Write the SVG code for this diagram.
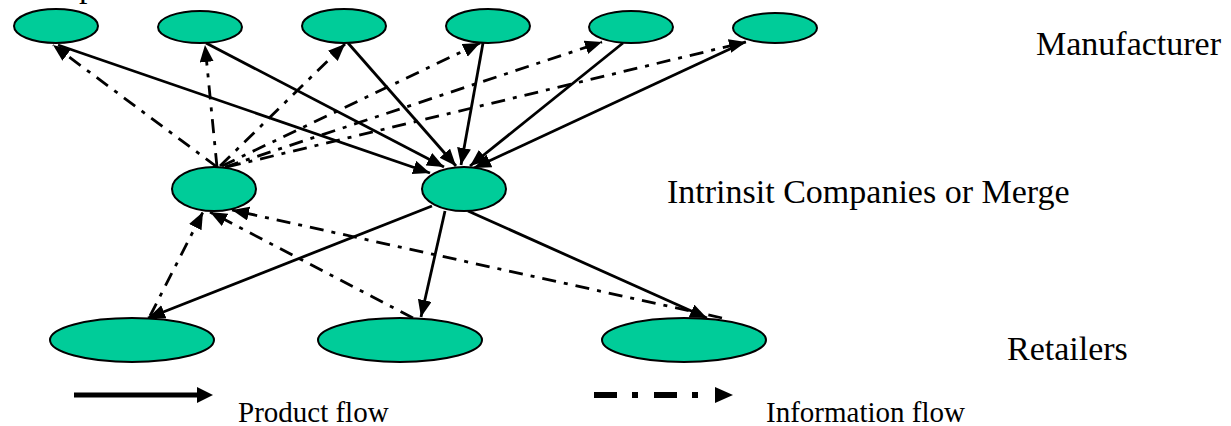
<svg xmlns="http://www.w3.org/2000/svg" width="1231" height="426" viewBox="0 0 1231 426">
  <style>
    .node { fill: #00CC99; stroke: #000; stroke-width: 2; }
    .product { fill: none; stroke: #000; stroke-width: 2.8; marker-end: url(#head); }
    .info { fill: none; stroke: #000; stroke-width: 2.8; stroke-dasharray: 14 8 4 8; marker-end: url(#head); }
    .label { font-family: "Liberation Serif", "Times New Roman", serif; font-size: 34px; fill: #000; }
    .legend-text { font-family: "Liberation Serif", "Times New Roman", serif; font-size: 29px; fill: #000; }
  </style>
  <defs>
    <marker id="head" markerUnits="userSpaceOnUse" markerWidth="19" markerHeight="15" refX="17" refY="7" orient="auto">
      <path d="M0,0 L17,7 L0,14 z" fill="#000"/>
    </marker>
  </defs>

  <rect width="1231" height="426" fill="#fff"/>

  <!-- clipped heading glyph at the top edge -->
  <text class="label" x="79" y="-3">p</text>

  <!-- flows between the tiers -->
  <g id="connectors">
    <!-- product flow: manufacturers to intermediary -->
    <line class="product" x1="58" y1="45" x2="430" y2="173"/>
    <line class="product" x1="206" y1="43" x2="444" y2="167"/>
    <line class="product" x1="348" y1="43" x2="456" y2="166"/>
    <line class="product" x1="483" y1="43" x2="461" y2="165"/>
    <line class="product" x1="623" y1="43" x2="470" y2="166"/>
    <line class="product" x1="745" y1="42" x2="474" y2="168"/>
    <!-- product flow: intermediary to retailers -->
    <line class="product" x1="432" y1="206" x2="148" y2="318"/>
    <line class="product" x1="445" y1="211" x2="421" y2="317"/>
    <line class="product" x1="468" y1="211" x2="707" y2="318"/>
    <!-- information flow: merged company to manufacturers -->
    <line class="info" x1="217" y1="167" x2="53" y2="45"/>
    <line class="info" x1="217" y1="167" x2="205" y2="45"/>
    <line class="info" x1="220" y1="166" x2="345" y2="44"/>
    <line class="info" x1="222" y1="166" x2="480" y2="43"/>
    <line class="info" x1="225" y1="167" x2="602" y2="42"/>
    <line class="info" x1="227" y1="167" x2="746" y2="42"/>
    <!-- information flow: retailers to merged company -->
    <line class="info" x1="150" y1="316" x2="203" y2="212"/>
    <line class="info" x1="413" y1="318" x2="210" y2="212"/>
    <line class="info" x1="722" y1="318" x2="232" y2="210"/>
  </g>

  <!-- manufacturers -->
  <g id="manufacturer-1"><ellipse class="node" cx="56" cy="26" rx="42" ry="17"/></g>
  <g id="manufacturer-2"><ellipse class="node" cx="200" cy="27" rx="42" ry="16"/></g>
  <g id="manufacturer-3"><ellipse class="node" cx="344" cy="26" rx="42" ry="17"/></g>
  <g id="manufacturer-4"><ellipse class="node" cx="488" cy="26" rx="42" ry="17"/></g>
  <g id="manufacturer-5"><ellipse class="node" cx="631" cy="27" rx="42" ry="16"/></g>
  <g id="manufacturer-6"><ellipse class="node" cx="775" cy="28" rx="42" ry="15"/></g>

  <!-- intermediaries -->
  <g id="intermediary-left"><ellipse class="node" cx="214" cy="189" rx="42" ry="22"/></g>
  <g id="intermediary-right"><ellipse class="node" cx="464" cy="189" rx="42" ry="22"/></g>

  <!-- retailers -->
  <g id="retailer-1"><ellipse class="node" cx="132" cy="340" rx="82" ry="22"/></g>
  <g id="retailer-2"><ellipse class="node" cx="400" cy="340" rx="82" ry="22"/></g>
  <g id="retailer-3"><ellipse class="node" cx="684" cy="340" rx="82" ry="22"/></g>

  <!-- tier labels -->
  <g id="tier-labels">
    <text class="label" x="1036" y="55">Manufacturer</text>
    <text class="label" x="667" y="203">Intrinsit Companies or Merge</text>
    <text class="label" x="1007" y="360">Retailers</text>
  </g>

  <!-- legend -->
  <g id="legend">
    <line x1="74" y1="395" x2="199" y2="395" stroke="#000" stroke-width="5"/>
    <polygon points="197,387 213,395 197,403" fill="#000"/>
    <text class="legend-text" x="238" y="422">Product flow</text>
    <line x1="594" y1="395" x2="698" y2="395" stroke="#000" stroke-width="6" stroke-dasharray="23 15 6 16"/>
    <polygon points="715,387 733,395 715,403" fill="#000"/>
    <text class="legend-text" x="766" y="422">Information flow</text>
  </g>
</svg>
